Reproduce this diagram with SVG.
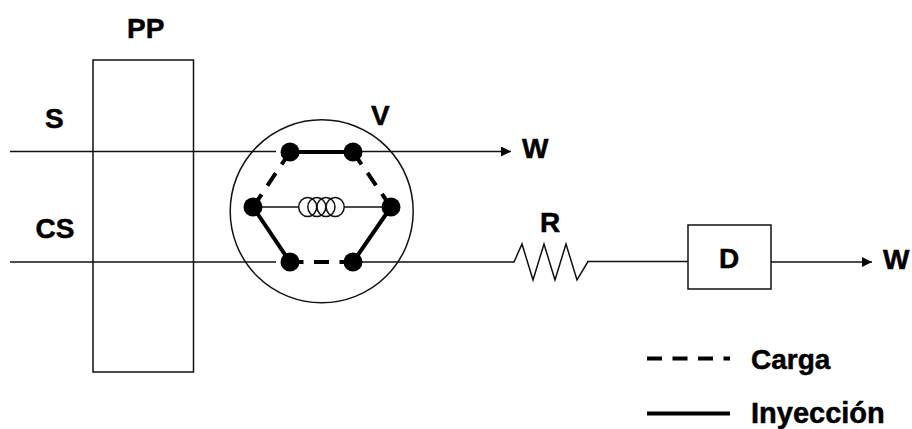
<svg xmlns="http://www.w3.org/2000/svg" width="912" height="429" viewBox="0 0 912 429">
<style>
.t{font-family:"Liberation Sans",Arial,sans-serif;font-weight:700;font-size:28px;fill:#000;stroke:#000;stroke-width:.5px}
.box{fill:none;stroke:#111;stroke-width:1.5}
.w{fill:none;stroke:#111;stroke-width:1.5}
.th{fill:none;stroke:#000;stroke-width:4}
.da{fill:none;stroke:#000;stroke-width:4;stroke-dasharray:15 10.5}
.n{fill:#000}
</style>
<defs>
<marker id="a" markerUnits="userSpaceOnUse" markerWidth="11" markerHeight="10" refX="10" refY="5" orient="auto"><path d="M0 0L10 5L0 10Z" fill="#000"/></marker>
</defs>
<g id="connectors">
<path class="w" d="M10 151.500H276"/>
<path class="w" d="M10 262H276"/>
<path class="w" d="M353 151.500H511" marker-end="url(#a)"/>
<path class="w" d="M353 262H514L522 244L533 280L544 244L555 280L566 244L577 280L588 261.500H688"/>
<path class="w" d="M771 262H872" marker-end="url(#a)"/>
</g>
<g id="PP"><rect class="box" x="93" y="60" width="100.500" height="312"/><text class="t" x="127" y="38">PP</text></g>
<g id="V">
<circle class="box" cx="321.700" cy="211.300" r="91.500"/>
<path class="th" d="M290 152H353M253 207L290 262M391 207L353 262"/>
<path class="da" d="M290 152L253 207M353 152L391 207M288.500 262H353"/>
<path class="w" d="M253 207H298M344 207H391"/>
<g class="w"><ellipse cx="307.700" cy="207" rx="9" ry="9.500"/><ellipse cx="316.800" cy="207" rx="9" ry="9.500"/><ellipse cx="326" cy="207" rx="9" ry="9.500"/><ellipse cx="335.200" cy="207" rx="9" ry="9.500"/></g>
<g class="n"><circle cx="290" cy="152" r="9.500"/><circle cx="353" cy="152" r="9.500"/><circle cx="253" cy="207" r="9.500"/><circle cx="391" cy="207" r="9.500"/><circle cx="290" cy="262" r="9.500"/><circle cx="353" cy="262" r="9.500"/></g>
<text class="t" x="371" y="125">V</text>
</g>
<g id="D"><rect class="box" x="688" y="225" width="83" height="64"/><text class="t" x="719" y="268">D</text></g>
<g id="labels">
<text class="t" x="45" y="128">S</text>
<text class="t" x="35.500" y="238">CS</text>
<text class="t" x="522" y="158">W</text>
<text class="t" x="540" y="232">R</text>
<text class="t" x="883" y="269">W</text>
</g>
<g id="legend">
<path class="da" d="M647 358.500H730"/>
<path class="th" d="M647 413.500H730"/>
<text class="t" x="751" y="369">Carga</text>
<text class="t" x="751" y="423" style="font-size:29px">Inyección</text>
</g>
</svg>
